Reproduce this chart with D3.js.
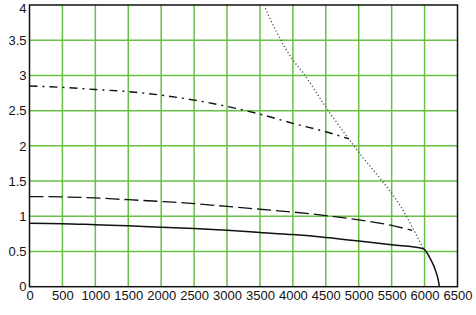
<!DOCTYPE html>
<html><head><meta charset="utf-8">
<script src="https://cdn.jsdelivr.net/npm/d3@7/dist/d3.min.js"></script>
<style>
html,body{margin:0;padding:0;background:#fff;}
svg{display:block;}
text{font-family:"Liberation Sans Narrow","Liberation Sans",Arial,sans-serif;font-size:13px;fill:#111;}
</style></head>
<body>
<svg id="chart" width="476" height="315"></svg>
<script>
const xTicks = [0,500,1000,1500,2000,2500,3000,3500,4000,4500,5000,5500,6000,6500];
const yTicks = [0,0.5,1,1.5,2,2.5,3,3.5,4];
const yTickLabels = ["0","0.5","1","1.5","2","2.5","3","3.5","4"];

const solidX = [0,500,1000,1500,2000,2500,3000,3500,4000,4500,5000,5500,5980,6085,6162,6213,6225];
const solidY = [0.9,0.895,0.88,0.865,0.845,0.825,0.80,0.77,0.74,0.70,0.65,0.595,0.54,0.40,0.24,0.07,0];

const dashedX = [0,500,1000,1500,2000,2500,3000,3500,4000,4500,5000,5500,5810];
const dashedY = [1.28,1.275,1.26,1.235,1.21,1.18,1.14,1.10,1.06,1.01,0.95,0.87,0.80];

const dashDotX = [0,500,1000,1500,2000,2500,3000,3500,4000,4500,4850];
const dashDotY = [2.85,2.83,2.80,2.77,2.72,2.65,2.56,2.45,2.32,2.2,2.1];

const dottedX = [3560,3750,4000,4160,4500,5000,5480,5650,5810,5980];
const dottedY = [4.0,3.62,3.22,3.03,2.55,1.91,1.35,1.12,0.85,0.54];

(function(){
const svg = d3.select("#chart");
const pL = 29.5, pR = 457.5, pT = 5, pB = 286.7;
const x = d3.scaleLinear().domain([0,6500]).range([pL,pR]);
const y = d3.scaleLinear().domain([0,4]).range([pB,pT]);

const grid = svg.append("g");
grid.selectAll("line.v").data(xTicks.slice(1,-1)).enter().append("line")
  .attr("x1",d=>x(d)).attr("x2",d=>x(d)).attr("y1",pT).attr("y2",pB)
  .attr("stroke","#66c044").attr("stroke-width",1.5);
grid.selectAll("line.h").data(yTicks.slice(1,-1)).enter().append("line")
  .attr("x1",pL).attr("x2",pR).attr("y1",d=>y(d)).attr("y2",d=>y(d))
  .attr("stroke","#66c044").attr("stroke-width",1.5);

const xAxis = d3.axisBottom(x).tickValues(xTicks).tickSize(0).tickPadding(4).tickFormat(d3.format("d"));
const gx = svg.append("g").attr("transform",`translate(0,${pB})`).call(xAxis);
gx.select(".domain").remove();
gx.selectAll("text").attr("font-size",13).attr("fill","#111");

const yAxis = d3.axisLeft(y).tickValues(yTicks).tickSize(0).tickPadding(3).tickFormat((d,i)=>yTickLabels[i]);
const gy = svg.append("g").attr("transform",`translate(${pL},0)`).call(yAxis);
gy.select(".domain").remove();
gy.selectAll("text").attr("font-size",13).attr("fill","#111")
  .attr("y",d=>d===4?3:0);
gx.attr("font-family",null); gy.attr("font-family",null);

svg.append("rect").attr("x",pL).attr("y",pT).attr("width",pR-pL).attr("height",pB-pT)
  .attr("fill","none").attr("stroke","#111").attr("stroke-width",1.5);

const line = d3.line().x(d=>x(d[0])).y(d=>y(d[1])).curve(d3.curveMonotoneX);
const zip = (a,b)=>a.map((v,i)=>[v,b[i]]);

svg.append("path").datum(zip(dottedX,dottedY)).attr("d",line)
  .attr("fill","none").attr("stroke","#555").attr("stroke-width",1.3).attr("stroke-dasharray","1.3,2.2");
svg.append("path").datum(zip(dashDotX,dashDotY)).attr("d",line)
  .attr("fill","none").attr("stroke","#111").attr("stroke-width",1.4).attr("stroke-dasharray","8,5,2,5");
svg.append("path").datum(zip(dashedX,dashedY)).attr("d",line)
  .attr("fill","none").attr("stroke","#111").attr("stroke-width",1.3).attr("stroke-dasharray","14,5");
svg.append("path").datum(zip(solidX,solidY)).attr("d",line)
  .attr("fill","none").attr("stroke","#111").attr("stroke-width",1.5);
})();
</script>
</body></html>
